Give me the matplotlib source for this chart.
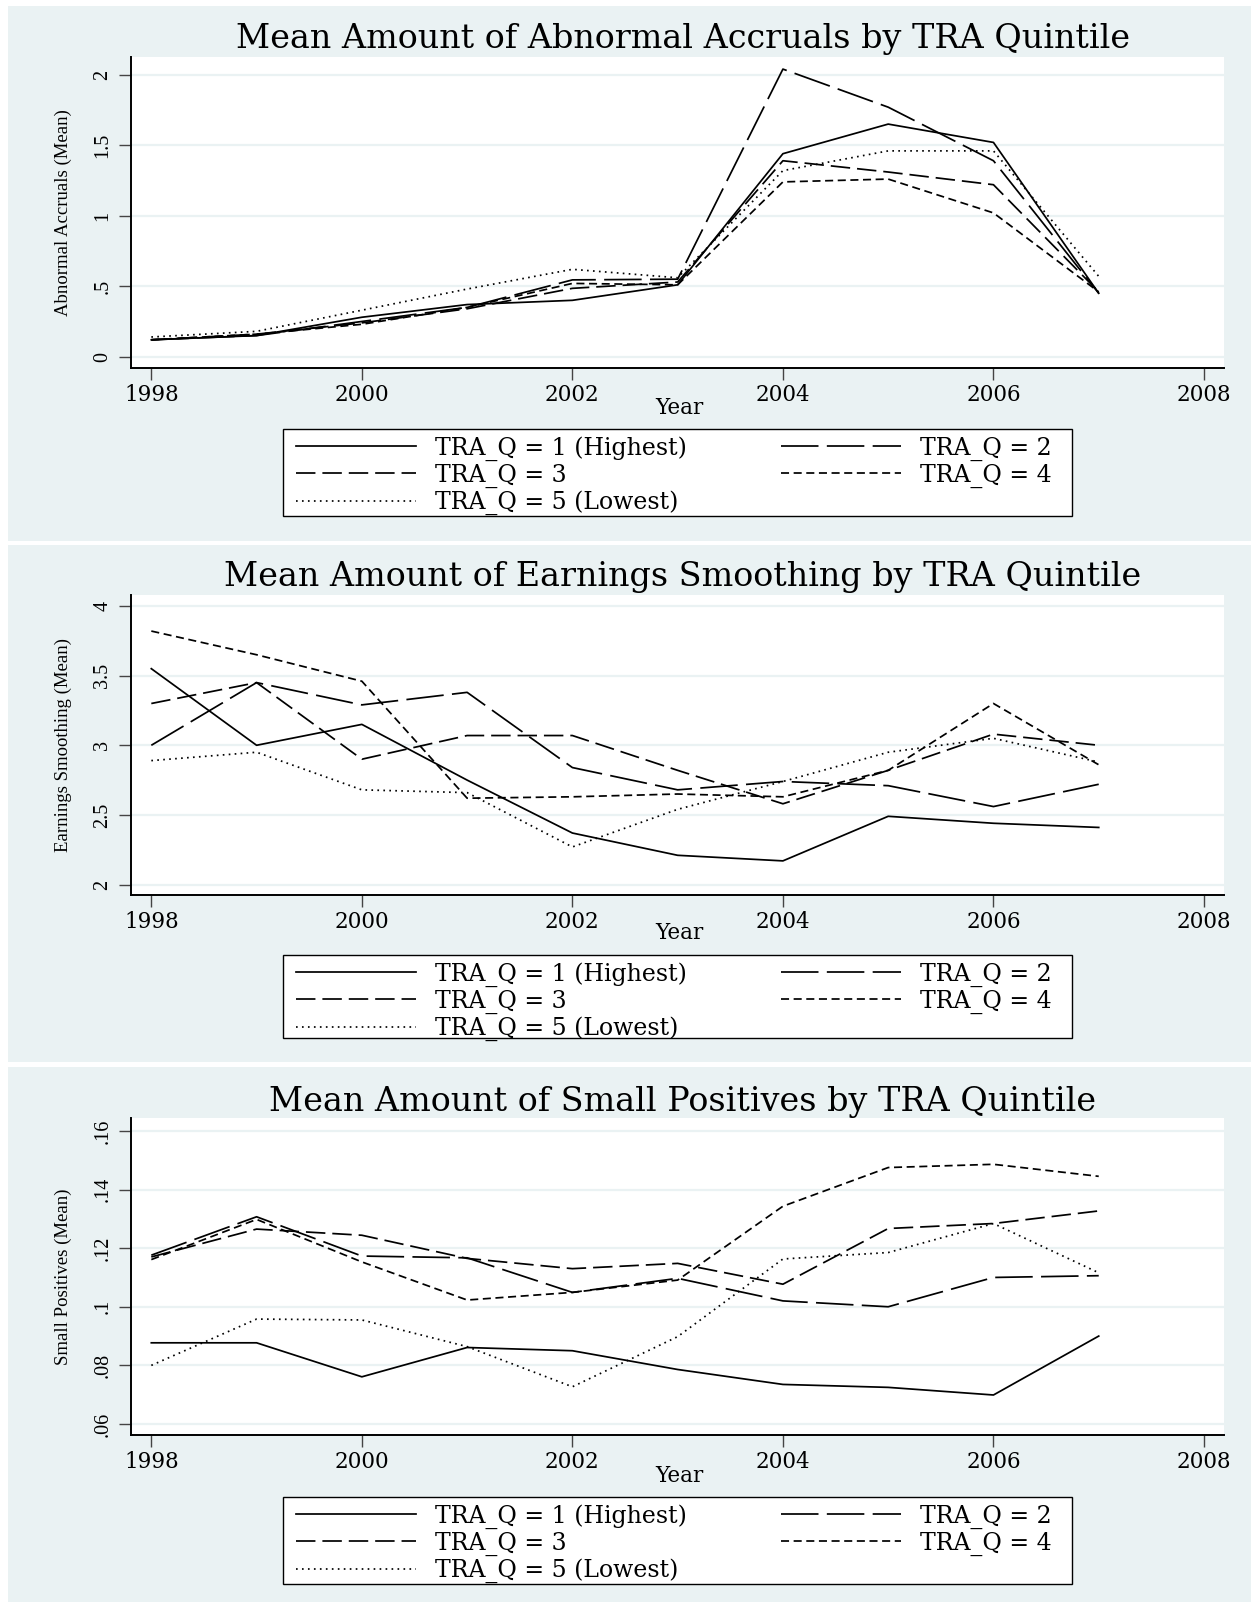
import matplotlib
matplotlib.use("Agg")
import matplotlib.pyplot as plt
from matplotlib.patches import Rectangle
from matplotlib.lines import Line2D

# years on the x axis
years = [1998, 1999, 2000, 2001, 2002, 2003, 2004, 2005, 2006, 2007]
xticks = [1998, 2000, 2002, 2004, 2006, 2008]

labels = ["TRA_Q = 1 (Highest)", "TRA_Q = 2", "TRA_Q = 3", "TRA_Q = 4",
          "TRA_Q = 5 (Lowest)"]

# abnormal accruals (mean)
aa_q1 = [0.12, 0.15, 0.28, 0.37, 0.40, 0.51, 1.44, 1.65, 1.52, 0.45]
aa_q2 = [0.12, 0.15, 0.25, 0.35, 0.545, 0.55, 2.04, 1.77, 1.39, 0.45]
aa_q3 = [0.12, 0.16, 0.24, 0.34, 0.485, 0.53, 1.39, 1.31, 1.22, 0.46]
aa_q4 = [0.12, 0.16, 0.23, 0.35, 0.52, 0.51, 1.24, 1.26, 1.02, 0.46]
aa_q5 = [0.14, 0.18, 0.33, 0.48, 0.62, 0.56, 1.32, 1.46, 1.46, 0.57]

# earnings smoothing (mean)
es_q1 = [3.55, 3.00, 3.15, 2.75, 2.37, 2.21, 2.17, 2.49, 2.44, 2.41]
es_q2 = [3.00, 3.45, 3.29, 3.38, 2.84, 2.68, 2.74, 2.71, 2.56, 2.72]
es_q3 = [3.30, 3.45, 2.90, 3.07, 3.07, 2.82, 2.58, 2.82, 3.08, 3.00]
es_q4 = [3.82, 3.65, 3.46, 2.62, 2.63, 2.65, 2.63, 2.82, 3.30, 2.86]
es_q5 = [2.89, 2.95, 2.68, 2.66, 2.27, 2.54, 2.74, 2.95, 3.05, 2.88]

# small positives (mean)
sp_q1 = [0.0877, 0.0877, 0.0761, 0.0861, 0.0850, 0.0786, 0.0735, 0.0725, 0.0699, 0.0900]
sp_q2 = [0.1176, 0.1307, 0.1173, 0.1167, 0.1049, 0.1097, 0.1020, 0.1000, 0.1100, 0.1106]
sp_q3 = [0.1170, 0.1265, 0.1244, 0.1165, 0.1130, 0.1148, 0.1077, 0.1267, 0.1284, 0.1327]
sp_q4 = [0.1161, 0.1298, 0.1153, 0.1023, 0.1049, 0.1091, 0.1343, 0.1475, 0.1486, 0.1445]
sp_q5 = [0.0800, 0.0958, 0.0955, 0.0864, 0.0727, 0.0898, 0.1163, 0.1185, 0.1284, 0.1116]

W, H = 1251, 1602
BG = "#EAF2F3"
plt.rcParams["font.family"] = ["DejaVu Serif"]
plt.rcParams["lines.scale_dashes"] = False

styles = ["-", (0, (27, 6)), (0, (14, 5)), (0, (5.8, 3.3)), (0, (1.2, 3.1))]
LW = 1.25

fig = plt.figure(figsize=(W / 100, H / 100), dpi=100)
fig.patch.set_facecolor("white")


def fx(x):
    return x / W


def fy(y):
    return 1 - y / H


def panel(bg, plot, title_y, title, ylabel, yticks, ytlabels, ylim, series, xlab_y, leg_box):
    fig.patches.append(Rectangle((fx(8), fy(bg[1])), fx(W - 8), (bg[1] - bg[0]) / H,
                                 transform=fig.transFigure, facecolor=BG,
                                 edgecolor="none", zorder=-5))
    ax = fig.add_axes([fx(131), fy(plot[1]), fx(1224 - 131), (plot[1] - plot[0]) / H])
    ax.set_facecolor("white")
    for s, ls in zip(series, styles):
        ax.plot(years, s, color="black", lw=LW, linestyle=ls)
    ax.set_xlim(1997.807, 2008.19)
    ax.set_ylim(*ylim)
    ax.set_xticks(xticks)
    ax.set_xticklabels([str(t) for t in xticks], fontsize=15.5)
    ax.set_yticks(yticks)
    ax.set_yticklabels(ytlabels, rotation=90, va="center", fontsize=14.5,
                       family="Liberation Serif")
    ax.tick_params(axis="both", length=8.5, width=1.0, color="#444444")
    ax.tick_params(axis="x", pad=3)
    ax.tick_params(axis="y", pad=5)
    for side in ["top", "right"]:
        ax.spines[side].set_visible(False)
    for side in ["left", "bottom"]:
        ax.spines[side].set_linewidth(1.4)
    ax.yaxis.grid(True, color=BG, lw=1.6)
    ax.set_axisbelow(True)

    fig.text(fx(683), fy(title_y), title, ha="center", va="center", fontsize=24)
    fig.text(fx(63), fy((plot[0] + plot[1]) / 2), ylabel, rotation=90,
             ha="center", va="center", fontsize=13.5, family="Liberation Serif")
    fig.text(fx(679), fy(xlab_y), "Year", ha="center", va="center", fontsize=15.5)

    # legend box drawn as its own frame, entries placed inside it
    top, bot = leg_box
    fig.patches.append(Rectangle((fx(283), fy(bot)), fx(1072 - 283), (bot - top) / H,
                                 transform=fig.transFigure, facecolor="white",
                                 edgecolor="black", lw=1.0, zorder=-1))
    handles = [Line2D([], [], color="black", lw=LW, linestyle=ls) for ls in styles]
    order = [0, 2, 4, 1, 3]
    ax.legend([handles[i] for i in order], [labels[i] for i in order], ncol=2,
              loc="upper left",
              bbox_to_anchor=(fx(296), fy(bot), fx(1052 - 296), (bot - top - 7) / H),
              bbox_transform=fig.transFigure, mode="expand", frameon=False,
              fontsize=17, handlelength=5.1, handletextpad=0.8,
              labelspacing=0.12, borderpad=0, borderaxespad=0)
    return ax


panel((6, 541), (56.7, 368), 39, "Mean Amount of Abnormal Accruals by TRA Quintile",
      "Abnormal Accruals (Mean)", [0, 0.5, 1, 1.5, 2], ["0", ".5", "1", "1.5", "2"],
      (-0.080, 2.128), [aa_q1, aa_q2, aa_q3, aa_q4, aa_q5], 408, (429, 516))

panel((545, 1062), (595, 895), 577, "Mean Amount of Earnings Smoothing by TRA Quintile",
      "Earnings Smoothing (Mean)", [2, 2.5, 3, 3.5, 4], ["2", "2.5", "3", "3.5", "4"],
      (1.925, 4.079), [es_q1, es_q2, es_q3, es_q4, es_q5], 933, (955, 1038))

panel((1067, 1602), (1118, 1435), 1102, "Mean Amount of Small Positives by TRA Quintile",
      "Small Positives (Mean)", [0.06, 0.08, 0.10, 0.12, 0.14, 0.16],
      [".06", ".08", ".1", ".12", ".14", ".16"],
      (0.05625, 0.1644), [sp_q1, sp_q2, sp_q3, sp_q4, sp_q5], 1476, (1497, 1584))

fig.savefig("out.png", dpi=100)
